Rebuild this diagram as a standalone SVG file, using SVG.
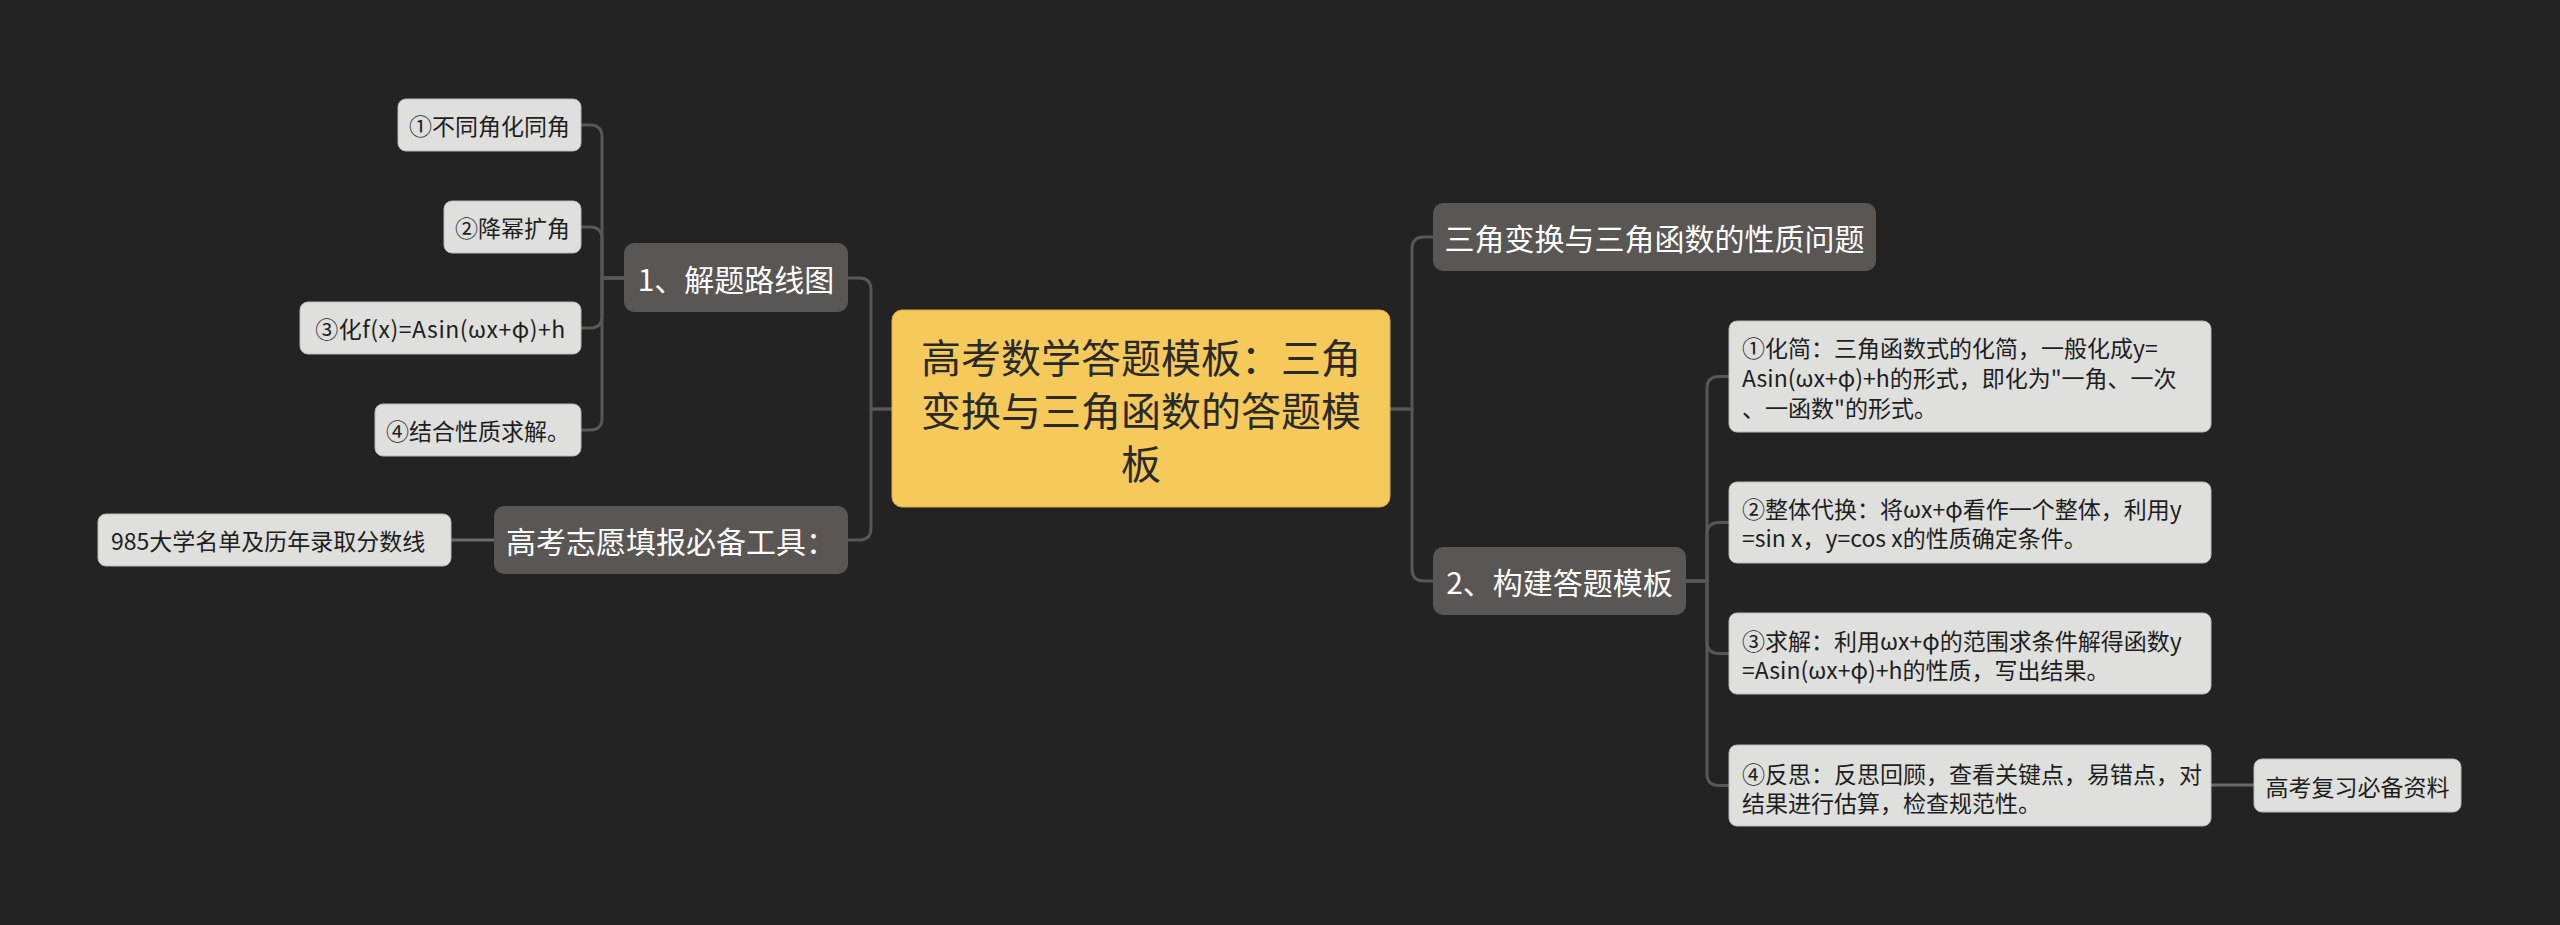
<svg xmlns="http://www.w3.org/2000/svg" width="2560" height="925" viewBox="0 0 2560 925">
<style>
text{font-family:"Noto Sans CJK SC","Noto Sans",sans-serif;dominant-baseline:central}
.bg{fill:#232323}
.root{fill:#f5ca5b;stroke:#d8ab45;stroke-width:1}
.main{fill:#5a5654}
.leaf{fill:#dfdfdd;stroke:#b9b9b7;stroke-width:1}
.tr{fill:#2a2a2a;font-size:40px;text-anchor:middle}
.tm{fill:#ffffff;font-size:30px;text-anchor:middle}
.tl{fill:#1e1e1e;font-size:23px;text-anchor:middle}
.ts{fill:#1e1e1e;font-size:23px}
.c{fill:none;stroke:#595755;stroke-width:3}
.c2{fill:none;stroke:#6a6a68;stroke-width:3}
</style>
<rect class="bg" x="0" y="0" width="2560" height="925"/>
<g id="connectors">
<path class="c" d="M892,409 H871 V290 Q871,278 859,278 H848"/>
<path class="c" d="M892,409 H871 V528 Q871,540 859,540 H848"/>
<path class="c" d="M624,278 H602 V137 Q602,125 590,125 H581"/>
<path class="c" d="M624,278 H602 V239 Q602,227 590,227 H581"/>
<path class="c" d="M624,278 H602 V316 Q602,328 590,328 H581"/>
<path class="c" d="M624,278 H602 V418 Q602,430 590,430 H581"/>
<path class="c2" d="M494,540 H451"/>
<path class="c" d="M1390,409 H1412 V249 Q1412,237 1424,237 H1433"/>
<path class="c" d="M1390,409 H1412 V569 Q1412,581 1424,581 H1433"/>
<path class="c" d="M1686,581 H1707 V388.5 Q1707,376.5 1719,376.5 H1729"/>
<path class="c" d="M1686,581 H1707 V534.5 Q1707,522.5 1719,522.5 H1729"/>
<path class="c" d="M1686,581 H1707 V641.5 Q1707,653.5 1719,653.5 H1729"/>
<path class="c" d="M1686,581 H1707 V773.5 Q1707,785.5 1719,785.5 H1729"/>
<path class="c2" d="M2211,785 H2254"/>
</g>
<g id="root">
<rect class="root" x="892" y="310" width="498" height="197" rx="10"/>
<text class="tr" x="1141" y="356">高考数学答题模板：三角</text>
<text class="tr" x="1141" y="409">变换与三角函数的答题模</text>
<text class="tr" x="1141" y="462">板</text>
</g>
<g id="n-route">
<rect class="main" x="624" y="243" width="224" height="69" rx="10"/>
<text class="tm" x="736" y="278">1、解题路线图</text>
</g>
<g id="n-tool">
<rect class="main" x="494" y="506" width="354" height="68" rx="10"/>
<text class="tm" x="671" y="540">高考志愿填报必备工具：</text>
</g>
<g id="l-1">
<rect class="leaf" x="398" y="99" width="183" height="52" rx="8"/>
<text class="tl" x="489.5" y="125">①不同角化同角</text>
</g>
<g id="l-2">
<rect class="leaf" x="444" y="201" width="137" height="52" rx="8"/>
<text class="tl" x="512.5" y="227">②降幂扩角</text>
</g>
<g id="l-3">
<rect class="leaf" x="300" y="302" width="281" height="52" rx="8"/>
<text class="tl" x="440.5" y="328" style="letter-spacing:0.5px">③化f(x)=Asin(ωx+φ)+h</text>
</g>
<g id="l-4">
<rect class="leaf" x="375" y="404" width="206" height="52" rx="8"/>
<text class="tl" x="478" y="430">④结合性质求解。</text>
</g>
<g id="l-985">
<rect class="leaf" x="98" y="514" width="353" height="52" rx="8"/>
<text class="ts" x="111" y="540">985大学名单及历年录取分数线</text>
</g>
<g id="n-prop">
<rect class="main" x="1433" y="203" width="443" height="68" rx="10"/>
<text class="tm" x="1654.5" y="237">三角变换与三角函数的性质问题</text>
</g>
<g id="n-tpl">
<rect class="main" x="1433" y="547" width="253" height="68" rx="10"/>
<text class="tm" x="1559.5" y="581">2、构建答题模板</text>
</g>
<g id="s-1">
<rect class="leaf" x="1729" y="321" width="482" height="111" rx="8"/>
<text class="ts" x="1742" y="346.5">①化简：三角函数式的化简，一般化成y=</text>
<text class="ts" x="1742" y="376.5">Asin(ωx+φ)+h的形式，即化为"一角、一次</text>
<text class="ts" x="1742" y="406.5">、一函数"的形式。</text>
</g>
<g id="s-2">
<rect class="leaf" x="1729" y="482" width="482" height="81" rx="8"/>
<text class="ts" x="1742" y="508">②整体代换：将ωx+φ看作一个整体，利用y</text>
<text class="ts" x="1742" y="537">=sin x，y=cos x的性质确定条件。</text>
</g>
<g id="s-3">
<rect class="leaf" x="1729" y="613" width="482" height="81" rx="8"/>
<text class="ts" x="1742" y="639.5">③求解：利用ωx+φ的范围求条件解得函数y</text>
<text class="ts" x="1742" y="668.5">=Asin(ωx+φ)+h的性质，写出结果。</text>
</g>
<g id="s-4">
<rect class="leaf" x="1729" y="745" width="482" height="81" rx="8"/>
<text class="ts" x="1742" y="772.5">④反思：反思回顾，查看关键点，易错点，对</text>
<text class="ts" x="1742" y="801.5">结果进行估算，检查规范性。</text>
</g>
<g id="s-5">
<rect class="leaf" x="2254" y="759" width="207" height="53" rx="8"/>
<text class="tl" x="2357.5" y="785.5">高考复习必备资料</text>
</g>
</svg>
